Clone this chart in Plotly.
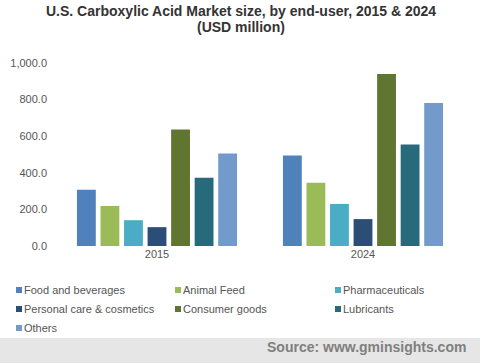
import plotly.graph_objects as go

years = ["2015", "2024"]
segments = ["Food and beverages", "Animal Feed", "Pharmaceuticals",
            "Personal care & cosmetics", "Consumer goods", "Lubricants", "Others"]
food = [307, 494]
animal = [219, 345]
pharma = [141, 230]
personal = [103, 147]
consumer = [637, 940]
lubricants = [373, 555]
others = [505, 781]
values = [food, animal, pharma, personal, consumer, lubricants, others]
colors = ["#4f81bd", "#9bbb59", "#4bacc6", "#2c4d75", "#5f7530", "#276a7c", "#729aca"]
title_lines = ["U.S. Carboxylic Acid Market size, by end-user, 2015 & 2024", "(USD million)"]

W, H = 480, 363
ml, mr, mt, mb = 54, 14, 63, 117
pw, ph = W - ml - mr, H - mt - mb
FONT = "Liberation Sans, Arial, sans-serif"

fig = go.Figure()
for name, vals, c in zip(segments, values, colors):
    fig.add_trace(go.Bar(name=name, x=years, y=vals, marker_color=c, marker_line_width=0))


def px_x(p):
    return (p - ml) / pw


def px_y(p):
    return (H - mb - p) / ph


# source banner
fig.add_shape(type="rect", xref="paper", yref="paper",
              x0=px_x(0), x1=px_x(W), y0=px_y(H), y1=px_y(338),
              fillcolor="#e6e6e6", line_width=0, layer="below")
fig.add_annotation(text="<b>Source: www.gminsights.com</b>", xref="paper", yref="paper",
                   x=px_x(468), y=px_y(347), xanchor="right", yanchor="middle",
                   showarrow=False,
                   font=dict(family=FONT, size=14, color="#7f7f7f"))

# title (two lines)
for line, ty in zip(title_lines, [11, 27]):
    fig.add_annotation(text="<b>" + line + "</b>",
                       xref="paper", yref="paper", x=px_x(241), y=px_y(ty),
                       xanchor="center", yanchor="middle", showarrow=False,
                       font=dict(family=FONT, size=14, color="#333333"))

# legend (manual, 3 columns)
col_x = [16, 175, 335]
row_y = [290, 309, 328]
for i, (name, c) in enumerate(zip(segments, colors)):
    cx = col_x[i % 3]
    ry = row_y[i // 3]
    fig.add_shape(type="rect", xref="paper", yref="paper",
                  x0=px_x(cx), x1=px_x(cx + 6), y0=px_y(ry + 3), y1=px_y(ry - 3),
                  fillcolor=c, line_width=0)
    fig.add_annotation(text=name, xref="paper", yref="paper",
                       x=px_x(cx + 6), y=px_y(ry), xanchor="left", yanchor="middle",
                       showarrow=False, font=dict(family=FONT, size=11, color="#555555"))

fig.update_layout(
    width=W, height=H,
    margin=dict(l=ml, r=mr, t=mt, b=mb),
    paper_bgcolor="white", plot_bgcolor="white",
    barmode="group", bargap=0.2, bargroupgap=0.2,
    font=dict(family=FONT, size=11, color="#555555"),
    showlegend=False,
    xaxis=dict(showline=False, showgrid=False, ticks="", automargin=False,
               tickfont=dict(size=11, color="#555555")),
    yaxis=dict(range=[0, 1000], tickvals=[0, 200, 400, 600, 800, 1000], tickformat=",.1f",
               showgrid=False, zeroline=False, showline=False, ticks="", automargin=False,
               ticklabelstandoff=6, tickfont=dict(size=11, color="#555555")),
)

fig.write_html("out.html", config={"displayModeBar": False},
               post_script="document.body.style.margin='0';")
